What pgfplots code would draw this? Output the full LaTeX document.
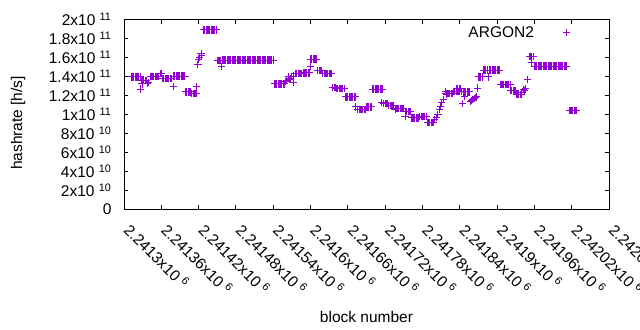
\documentclass[border=0pt]{standalone}
\usepackage{fontspec}
\setmainfont{Liberation Sans}
\usepackage{pgfplots}
\usepackage{pgfplotstable}
\pgfplotsset{compat=1.18}
\definecolor{argon}{HTML}{9400D3}

\pgfplotstableread{
x y
2241312 1.39e11
2241314 1.39e11
2241316 1.39e11
2241318 1.39e11
2241320 1.39e11
2241322 1.39e11
2241324 1.39e11
2241326 1.39e11
2241327 1.263e11
2241329 1.316e11
2241328 1.354e11
2241330 1.354e11
2241332 1.354e11
2241334 1.354e11
2241336 1.354e11
2241337 1.32e11
2241339 1.33e11
2241342 1.396e11
2241344 1.396e11
2241346 1.396e11
2241348 1.396e11
2241350 1.396e11
2241352 1.396e11
2241354 1.396e11
2241356 1.396e11
2241358 1.43e11
2241360 1.43e11
2241362 1.372e11
2241364 1.372e11
2241366 1.372e11
2241368 1.372e11
2241370 1.372e11
2241372 1.372e11
2241374 1.372e11
2241376 1.372e11
2241379 1.29e11
2241380 1.40e11
2241382 1.40e11
2241384 1.40e11
2241386 1.40e11
2241388 1.40e11
2241390 1.40e11
2241392 1.40e11
2241394 1.40e11
2241396 1.40e11
2241398 1.40e11
2241399 1.232e11
2241401 1.232e11
2241403 1.232e11
2241405 1.232e11
2241407 1.232e11
2241409 1.213e11
2241411 1.213e11
2241413 1.213e11
2241415 1.213e11
2241416 1.22e11
2241417 1.29e11
2241419 1.52e11
2241420 1.57e11
2241422 1.60e11
2241424 1.64e11
2241425 1.62e11
2241428 1.885e11
2241430 1.885e11
2241432 1.885e11
2241434 1.885e11
2241436 1.885e11
2241438 1.885e11
2241440 1.885e11
2241442 1.885e11
2241444 1.885e11
2241446 1.885e11
2241448 1.885e11
2241450 1.561e11
2241452 1.561e11
2241454 1.561e11
2241456 1.561e11
2241457 1.50e11
2241458 1.568e11
2241460 1.568e11
2241462 1.568e11
2241464 1.568e11
2241466 1.568e11
2241468 1.568e11
2241470 1.568e11
2241472 1.568e11
2241474 1.568e11
2241476 1.568e11
2241478 1.568e11
2241480 1.568e11
2241482 1.568e11
2241484 1.568e11
2241486 1.568e11
2241488 1.568e11
2241490 1.568e11
2241492 1.568e11
2241494 1.568e11
2241496 1.568e11
2241498 1.568e11
2241500 1.568e11
2241502 1.568e11
2241504 1.568e11
2241506 1.568e11
2241508 1.568e11
2241510 1.568e11
2241512 1.568e11
2241514 1.568e11
2241516 1.568e11
2241518 1.568e11
2241520 1.568e11
2241522 1.568e11
2241524 1.568e11
2241526 1.568e11
2241528 1.568e11
2241530 1.568e11
2241532 1.568e11
2241534 1.568e11
2241536 1.568e11
2241538 1.568e11
2241540 1.568e11
2241542 1.316e11
2241544 1.316e11
2241546 1.316e11
2241548 1.316e11
2241550 1.316e11
2241552 1.316e11
2241554 1.316e11
2241556 1.316e11
2241558 1.316e11
2241560 1.343e11
2241562 1.35e11
2241564 1.39e11
2241566 1.36e11
2241568 1.37e11
2241570 1.396e11
2241572 1.40e11
2241573 1.33e11
2241576 1.425e11
2241578 1.425e11
2241580 1.425e11
2241582 1.425e11
2241584 1.425e11
2241586 1.425e11
2241588 1.432e11
2241590 1.432e11
2241592 1.432e11
2241594 1.432e11
2241596 1.432e11
2241598 1.432e11
2241600 1.50e11
2241600 1.578e11
2241602 1.578e11
2241604 1.578e11
2241606 1.578e11
2241608 1.578e11
2241610 1.578e11
2241612 1.459e11
2241614 1.459e11
2241616 1.459e11
2241618 1.459e11
2241620 1.424e11
2241622 1.424e11
2241624 1.424e11
2241626 1.424e11
2241628 1.424e11
2241630 1.424e11
2241632 1.424e11
2241634 1.424e11
2241636 1.28e11
2241638 1.28e11
2241640 1.28e11
2241642 1.266e11
2241644 1.266e11
2241646 1.266e11
2241648 1.266e11
2241650 1.266e11
2241652 1.266e11
2241654 1.266e11
2241656 1.179e11
2241658 1.179e11
2241660 1.179e11
2241662 1.179e11
2241664 1.179e11
2241666 1.179e11
2241668 1.179e11
2241670 1.179e11
2241672 1.179e11
2241673 1.074e11
2241676 1.045e11
2241678 1.045e11
2241680 1.045e11
2241682 1.045e11
2241684 1.045e11
2241686 1.045e11
2241688 1.045e11
2241690 1.074e11
2241692 1.074e11
2241694 1.074e11
2241696 1.074e11
2241698 1.074e11
2241700 1.263e11
2241702 1.263e11
2241704 1.263e11
2241706 1.263e11
2241708 1.263e11
2241710 1.263e11
2241712 1.263e11
2241714 1.263e11
2241716 1.263e11
2241714 1.12e11
2241718 1.108e11
2241720 1.108e11
2241722 1.108e11
2241724 1.108e11
2241726 1.091e11
2241728 1.091e11
2241730 1.091e11
2241732 1.091e11
2241734 1.091e11
2241736 1.045e11
2241738 1.056e11
2241740 1.056e11
2241742 1.056e11
2241744 1.056e11
2241746 1.056e11
2241748 1.056e11
2241750 1.056e11
2241752 9.75e10
2241753 1.027e11
2241755 1.027e11
2241757 1.027e11
2241759 1.027e11
2241761 1.027e11
2241762 9.58e10
2241764 9.58e10
2241766 9.58e10
2241768 9.58e10
2241770 9.58e10
2241772 9.58e10
2241774 9.58e10
2241776 9.75e10
2241778 9.75e10
2241780 9.75e10
2241782 9.75e10
2241784 9.75e10
2241786 9.75e10
2241788 9.12e10
2241790 9.12e10
2241792 9.12e10
2241794 9.12e10
2241796 9.12e10
2241798 9.12e10
2241800 9.4e10
2241803 9.6e10
2241805 9.93e10
2241807 1.045e11
2241809 1.08e11
2241811 1.116e11
2241814 1.15e11
2241817 1.238e11
2241819 1.203e11
2241818 1.217e11
2241820 1.217e11
2241822 1.217e11
2241824 1.217e11
2241826 1.217e11
2241828 1.217e11
2241830 1.238e11
2241832 1.238e11
2241834 1.238e11
2241836 1.238e11
2241838 1.238e11
2241840 1.238e11
2241842 1.238e11
2241835 1.27e11
2241837 1.27e11
2241839 1.27e11
2241841 1.27e11
2241845 1.108e11
2241847 1.185e11
2241846 1.232e11
2241848 1.232e11
2241850 1.232e11
2241852 1.232e11
2241854 1.232e11
2241856 1.232e11
2241857 1.133e11
2241859 1.14e11
2241861 1.15e11
2241863 1.16e11
2241865 1.17e11
2241867 1.18e11
2241869 1.273e11
2241870 1.39e11
2241872 1.39e11
2241874 1.39e11
2241876 1.39e11
2241878 1.463e11
2241880 1.463e11
2241882 1.463e11
2241884 1.463e11
2241886 1.39e11
2241888 1.463e11
2241890 1.463e11
2241892 1.463e11
2241894 1.463e11
2241896 1.463e11
2241898 1.463e11
2241900 1.463e11
2241902 1.463e11
2241904 1.463e11
2241905 1.312e11
2241907 1.312e11
2241909 1.312e11
2241911 1.312e11
2241913 1.312e11
2241915 1.312e11
2241917 1.312e11
2241919 1.312e11
2241921 1.312e11
2241922 1.245e11
2241924 1.245e11
2241926 1.245e11
2241928 1.245e11
2241930 1.245e11
2241931 1.203e11
2241933 1.203e11
2241935 1.203e11
2241937 1.203e11
2241939 1.203e11
2241940 1.23e11
2241942 1.26e11
2241944 1.25e11
2241946 1.27e11
2241949 1.36e11
2241952 1.603e11
2241954 1.603e11
2241956 1.603e11
2241958 1.603e11
2241955 1.537e11
2241960 1.505e11
2241962 1.505e11
2241964 1.505e11
2241966 1.505e11
2241968 1.505e11
2241970 1.505e11
2241972 1.505e11
2241974 1.505e11
2241976 1.505e11
2241978 1.505e11
2241980 1.505e11
2241982 1.505e11
2241984 1.505e11
2241986 1.505e11
2241988 1.505e11
2241990 1.505e11
2241992 1.505e11
2241994 1.505e11
2241996 1.505e11
2241998 1.505e11
2242000 1.505e11
2242002 1.505e11
2242004 1.505e11
2242006 1.505e11
2242008 1.505e11
2242010 1.505e11
2242012 1.505e11
2242016 1.035e11
2242018 1.035e11
2242020 1.035e11
2242022 1.035e11
2242024 1.035e11
2242026 1.035e11
2242028 1.035e11
}\argondata

\begin{document}
\begin{tikzpicture}[font=\fontsize{15.5bp}{18bp}\selectfont]
\useasboundingbox (-124bp,-121bp) rectangle (516bp,209bp);
\clip (-124bp,-121bp) rectangle (516bp,209bp);
\begin{axis}[
  at={(0,0)}, anchor=south west,
  scale only axis, width=485bp, height=190bp,
  xmin=2241300, xmax=2242080, ymin=0, ymax=2e11,
  scaled x ticks=false, scaled y ticks=false,
  axis line style={line width=0.9bp},
  every tick/.style={black, line width=0.9bp},
  tick align=inside, major tick length=4.5bp,
  xtick={2241300,2241360,2241420,2241480,2241540,2241600,2241660,2241720,2241780,2241840,2241900,2241960,2242020,2242080},
  xticklabels={2.2413x10\ \textsuperscript{6},2.24136x10\ \textsuperscript{6},2.24142x10\ \textsuperscript{6},2.24148x10\ \textsuperscript{6},2.24154x10\ \textsuperscript{6},2.2416x10\ \textsuperscript{6},2.24166x10\ \textsuperscript{6},2.24172x10\ \textsuperscript{6},2.24178x10\ \textsuperscript{6},2.24184x10\ \textsuperscript{6},2.2419x10\ \textsuperscript{6},2.24196x10\ \textsuperscript{6},2.24202x10\ \textsuperscript{6},2.24208x10\ \textsuperscript{6}},
  ytick={0,2e10,4e10,6e10,8e10,1e11,1.2e11,1.4e11,1.6e11,1.8e11,2e11},
  yticklabels={0,2x10\ \textsuperscript{10},4x10\ \textsuperscript{10},6x10\ \textsuperscript{10},8x10\ \textsuperscript{10},1x10\ \textsuperscript{11},1.2x10\ \textsuperscript{11},1.4x10\ \textsuperscript{11},1.6x10\ \textsuperscript{11},1.8x10\ \textsuperscript{11},2x10\ \textsuperscript{11}},
  x tick label style={xshift=8bp, yshift=-10bp, rotate=-45, anchor=north west, inner sep=2bp},
  y tick label style={anchor=east, xshift=-9bp},
  xlabel={block number},
  ylabel={hashrate [h/s]},
  every axis x label/.style={at={(axis description cs:0.5,0)}, yshift=-108bp, anchor=center},
  every axis y label/.style={at={(axis description cs:0,0.5)}, xshift=-106bp, yshift=-9bp, rotate=90, anchor=center},
  legend plot pos=right,
  legend image code/.code={\path (0cm,0cm); \draw[#1] plot coordinates {(1.05cm,0cm)};},
  legend style={draw=none, fill=none, font=\fontsize{15.5bp}{18bp}\selectfont, at={(1,1)}, anchor=north east, xshift=-36bp, yshift=-3bp},
]
\addplot[only marks, mark=+, mark size=3.6bp, color=argon, line width=1bp] table {\argondata};
\addlegendentry{ARGON2}
\end{axis}
\end{tikzpicture}
\end{document}
